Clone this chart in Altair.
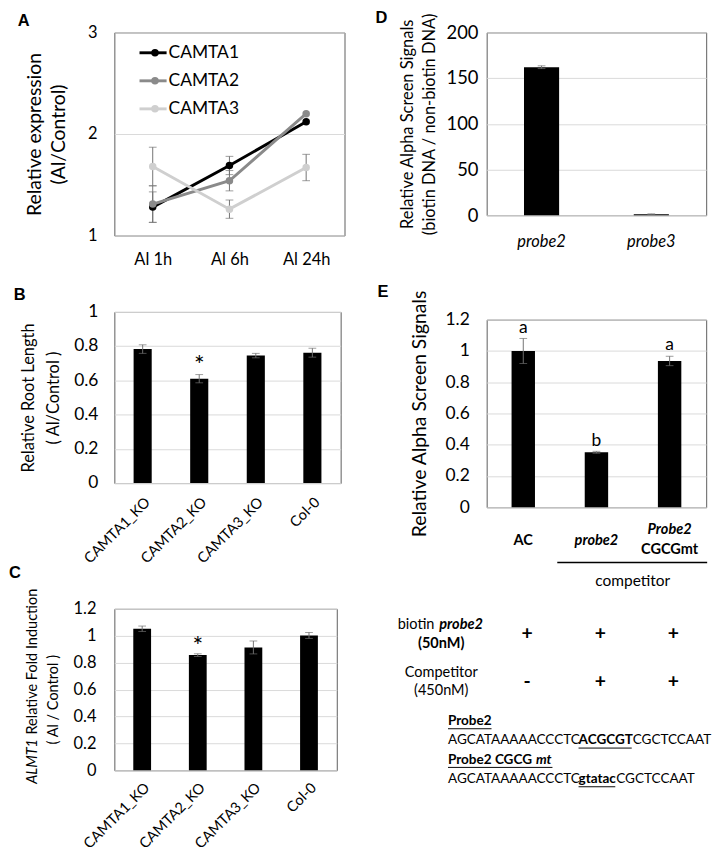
import altair as alt
import pandas as pd

FONT = "Lato"
LETTER_FONT = "Liberation Sans"
ERR = "#707070"
GRID = "#d9d9d9"
FRAME = "#595959"

# ---------------- data ----------------
# Panel A
a_times = ["Al 1h", "Al 6h", "Al 24h"]
a_series = ["CAMTA1", "CAMTA2", "CAMTA3"]
a_camta1 = [1.28, 1.69, 2.12]
a_camta2 = [1.31, 1.54, 2.20]
a_camta3 = [1.68, 1.26, 1.67]
a_err_camta1 = [0.15, 0.09, 0.0]
a_err_camta2 = [0.18, 0.10, 0.0]
a_err_camta3 = [0.19, 0.09, 0.13]
a_colors = ["#000000", "#8a8a8a", "#cfcfcf"]

# Panel B
b_lines = ["CAMTA1_KO", "CAMTA2_KO", "CAMTA3_KO", "Col-0"]
b_values = [0.783, 0.61, 0.745, 0.762]
b_errors = [0.025, 0.024, 0.013, 0.026]
b_marks = ["", "*", "", ""]

# Panel C
c_lines = ["CAMTA1_KO", "CAMTA2_KO", "CAMTA3_KO", "Col-0"]
c_values = [1.052, 0.856, 0.913, 1.002]
c_errors = [0.02, 0.01, 0.048, 0.022]
c_marks = ["", "*", "", ""]

# Panel D
d_probes = ["probe2", "probe3"]
d_values = [162.0, 1.2]
d_errors = [1.5, 0.3]
d_marks = ["", ""]

# Panel E
e_groups = ["AC", "probe2", "Probe2 CGCGmt"]
e_values = [1.0, 0.352, 0.936]
e_errors = [0.08, 0.006, 0.03]
e_letters = ["a", "b", "a"]
e_biotin = ["+", "+", "+"]
e_competitor = ["-", "+", "+"]
e_label_line1 = ["AC", "probe2", "Probe2"]
e_label_line2 = ["", "", "CGCGmt"]

seq_probe2 = ["AGCATAAAAACCCTC", "ACGCGT", "CGCTCCAAT"]
seq_mut = ["AGCATAAAAACCCTC", "gtatac", "CGCTCCAAT"]


# ---------------- helpers ----------------
def note(text, x, y, size=15, weight="normal", style="normal", align="left",
         angle=0, font=FONT, color="black"):
    return alt.Chart(pd.DataFrame({"t": [text]})).mark_text(
        fontSize=size, fontWeight=weight, fontStyle=style, align=align,
        baseline="middle", angle=angle, font=font, color=color
    ).encode(x=alt.value(x), y=alt.value(y), text="t:N")


def hline(x1, x2, y, width=1.0):
    return alt.Chart(pd.DataFrame({"k": [0]})).mark_rule(
        color="black", strokeWidth=width
    ).encode(x=alt.value(x1), x2=alt.value(x2), y=alt.value(y))


def letter(t, x, y):
    return note(t, x, y, size=17, weight="bold", font=LETTER_FONT)


def bar_df(cats, vals, errs, marks):
    df = pd.DataFrame({"cat": cats, "value": vals, "err": errs, "mark": marks})
    df["lo"] = df["value"] - df["err"]
    df["hi"] = df["value"] + df["err"]
    return df


def bar_parts(df, cats, ydomain, yaxis, xaxis, mark_size=26, mark_dy=-2):
    xs = alt.X("cat:N", sort=cats,
               scale=alt.Scale(domain=cats, paddingInner=0.68, paddingOuter=0.34),
               axis=xaxis)
    ys = alt.Scale(domain=ydomain, nice=False)

    def Y(f):
        return alt.Y(f"{f}:Q", scale=ys, axis=yaxis)

    base = alt.Chart(df)
    bars = base.mark_bar(color="black").encode(x=xs, y=Y("value"))
    err = base.mark_rule(color=ERR, strokeWidth=1).encode(x=xs, y=Y("lo"), y2="hi:Q")
    lo = base.mark_tick(color=ERR, size=8, thickness=1).encode(x=xs, y=Y("lo"))
    hi = base.mark_tick(color=ERR, size=8, thickness=1).encode(x=xs, y=Y("hi"))
    marks = base.transform_filter("datum.mark != ''").mark_text(
        fontSize=mark_size, baseline="alphabetic", dy=mark_dy, color="black", font=FONT
    ).encode(x=xs, y=Y("hi"), text="mark:N")
    return [bars, err, lo, hi, marks], xs


# ---------------- Panel A ----------------
rows = []
for name, vals, errs in zip(a_series, [a_camta1, a_camta2, a_camta3],
                            [a_err_camta1, a_err_camta2, a_err_camta3]):
    for t, v, e in zip(a_times, vals, errs):
        rows.append({"time": t, "series": name, "value": v,
                     "lo": v - e, "hi": v + e, "err": e})
dfA = pd.DataFrame(rows)

xA = alt.X("time:N", sort=a_times, scale=alt.Scale(type="point", padding=0.5),
           axis=alt.Axis(title=None, labelAngle=0, labelFontSize=17, labelPadding=17))
yA_axis = alt.Axis(values=[1, 2, 3], title=["Relative expression", "(Al/Control)"],
                   labelExpr="format(datum.value, 'd')",
                   titleFontSize=20, titleLineHeight=25, titlePadding=20,
                   labelFontSize=17, labelPadding=18)
yA_scale = alt.Scale(domain=[1, 3], nice=False)


def yA(f):
    return alt.Y(f"{f}:Q", scale=yA_scale, axis=yA_axis)


colorA = alt.Scale(domain=a_series, range=a_colors)
cA = alt.Color("series:N", scale=colorA, legend=None)

baseA = alt.Chart(dfA)
lineA = baseA.mark_line(strokeWidth=3).encode(x=xA, y=yA("value"), color=cA)
errA = baseA.transform_filter("datum.err > 0").mark_rule(color=ERR, strokeWidth=1).encode(
    x=xA, y=yA("lo"), y2="hi:Q")
capLoA = baseA.transform_filter("datum.err > 0").mark_tick(color=ERR, size=8, thickness=1).encode(
    x=xA, y=yA("lo"))
capHiA = baseA.transform_filter("datum.err > 0").mark_tick(color=ERR, size=8, thickness=1).encode(
    x=xA, y=yA("hi"))
pointA = baseA.mark_point(filled=True, size=60, opacity=1).encode(x=xA, y=yA("value"), color=cA)

# legend drawn inside the plot, one row per series
dfLeg = pd.DataFrame({"series": a_series})
legend_layers = []
for i, s in enumerate(a_series):
    yy = 21 + 29 * i
    lb = alt.Chart(dfLeg).transform_filter(alt.datum.series == s)
    legend_layers.append(lb.mark_rule(strokeWidth=3).encode(
        x=alt.value(26), x2=alt.value(54), y=alt.value(yy), color=cA))
    legend_layers.append(lb.mark_point(filled=True, size=60, opacity=1).encode(
        x=alt.value(42), y=alt.value(yy), color=cA))
    legend_layers.append(lb.mark_text(align="left", baseline="middle", fontSize=18,
                                      color="black", font=FONT).encode(
        x=alt.value(56), y=alt.value(yy), text="series:N"))

panelA = alt.layer(lineA, errA, capLoA, capHiA, pointA, *legend_layers,
                   letter("A", -100, -12)).properties(width=238, height=210)

# ---------------- Panel B ----------------
dfB = bar_df(b_lines, b_values, b_errors, b_marks)
layersB, xsB = bar_parts(
    dfB, b_lines, [0, 1],
    alt.Axis(values=[0, 0.2, 0.4, 0.6, 0.8, 1], format="~g",
             title=["Relative Root Length", "( Al/Control )"],
             titleFontSize=17, titleLineHeight=25, titlePadding=12,
             labelFontSize=18, labelPadding=17),
    alt.Axis(title=None, labelAngle=-45, labelFontSize=15, labelPadding=12),
    mark_size=26, mark_dy=-1)
panelB = alt.layer(*layersB, letter("B", -104, -17)).properties(width=234, height=177)

# ---------------- Panel C ----------------
dfC = bar_df(c_lines, c_values, c_errors, c_marks)
layersC, xsC = bar_parts(
    dfC, c_lines, [0, 1.2],
    alt.Axis(values=[0, 0.2, 0.4, 0.6, 0.8, 1, 1.2], format="~g", title=None,
             labelFontSize=17, labelPadding=19),
    alt.Axis(title=None, labelAngle=-45, labelFontSize=15, labelPadding=10),
    mark_size=26, mark_dy=1)
panelC = alt.layer(
    *layersC,
    note("ALMT1", -85, 181, size=15, style="italic", angle=270),
    note("Relative  Fold Induction", -85, 130, size=15, angle=270),
    note("( Al / Control )", -63, 94, size=15, angle=270, align="center"),
    letter("C", -109, -37),
).properties(width=230, height=167)

# ---------------- Panel D ----------------
dfD = bar_df(d_probes, d_values, d_errors, d_marks)
layersD, xsD = bar_parts(
    dfD, d_probes, [0, 200],
    alt.Axis(values=[0, 50, 100, 150, 200],
             title=["Relative Alpha Screen Signals", "(biotin DNA / non-biotin DNA)"],
             titleFontSize=17, titleLineHeight=23, titlePadding=8,
             labelFontSize=19, labelPadding=9),
    alt.Axis(title=None, labelAngle=0, labelFontSize=17, labelFontStyle="italic", labelPadding=19))
panelD = alt.layer(*layersD, letter("D", -115, -15)).properties(width=227, height=189)

# ---------------- Panel E ----------------
dfE = bar_df(e_groups, e_values, e_errors, e_letters)
dfE["biotin"] = e_biotin
dfE["comp"] = e_competitor
dfE["lab1"] = e_label_line1
dfE["lab2"] = e_label_line2
layersE, xsE = bar_parts(
    dfE, e_groups, [0, 1.2],
    alt.Axis(values=[0, 0.2, 0.4, 0.6, 0.8, 1, 1.2], format="~g",
             title="Relative Alpha Screen Signals",
             titleFontSize=20, titlePadding=16, labelFontSize=18, labelPadding=18),
    None, mark_size=18, mark_dy=-6)


def cat_text(field, y, size=15, weight="bold", style="normal", dx=0, group=None):
    ch = alt.Chart(dfE)
    if group is not None:
        ch = ch.transform_filter(alt.datum.cat == group)
    return ch.mark_text(fontSize=size, fontWeight=weight, fontStyle=style,
                        baseline="middle", dx=dx, color="black", font=FONT).encode(
        x=xsE, y=alt.value(y), text=f"{field}:N")


panelE = alt.layer(
    *layersE,
    cat_text("lab1", 228, group="AC"),
    cat_text("lab1", 228, style="italic", group="probe2"),
    cat_text("lab1", 217, style="italic", group="Probe2 CGCGmt"),
    cat_text("lab2", 237, group="Probe2 CGCGmt"),
    hline(73, 228, 251, 1.5),
    note("competitor", 151, 270, size=16, align="center"),
    note("biotin", -92, 315, size=15),
    note("probe2", -49, 315, size=15, weight="bold", style="italic"),
    note("(50nM)", -47, 335, size=15, weight="bold", align="center"),
    cat_text("biotin", 325, size=20, dx=4),
    note("Competitor", -47, 364, size=15, align="center"),
    note("(450nM)", -47, 383, size=15, align="center"),
    cat_text("comp", 375, size=20, dx=4),
    note("Probe2", -40, 415, size=14, weight="bold"),
    hline(-40, 5, 423),
    note(seq_probe2[0], -40, 435, size=14),
    note(seq_probe2[1], 95, 435, size=14, weight="bold"),
    note(seq_probe2[2], 151, 435, size=14),
    hline(95, 150, 443),
    note("Probe2 CGCG", -40, 455, size=14, weight="bold"),
    note("mt", 51, 455, size=14, weight="bold", style="italic"),
    hline(-40, 68, 463),
    note(seq_mut[0], -40, 475, size=14),
    note(seq_mut[1], 95, 475, size=14, weight="bold"),
    note(seq_mut[2], 134, 475, size=14),
    hline(95, 133, 483),
    letter("E", -113, -28),
).properties(width=227, height=194)

lower_left = alt.concat(panelB, panelC, columns=1, spacing=-4, align="none")
left = alt.concat(panelA, lower_left, columns=1, spacing=18, align="none")
right = alt.concat(panelD, panelE, columns=1, spacing=34, align="none")

chart = alt.concat(left, right, columns=2, spacing=30, align="none").properties(
    padding={"left": 0, "top": -15, "right": 0, "bottom": 40}
).configure(font=FONT).configure_axis(
    domain=False, ticks=False, tickSize=0, labelColor="black", titleColor="black",
    titleFontWeight="normal", gridColor=GRID, labelFont=FONT, titleFont=FONT
).configure_axisX(grid=False).configure_axisY(grid=True).configure_view(
    stroke=FRAME, strokeWidth=1
)

chart.save("out.html", embed_options={"renderer": "svg", "actions": False})
